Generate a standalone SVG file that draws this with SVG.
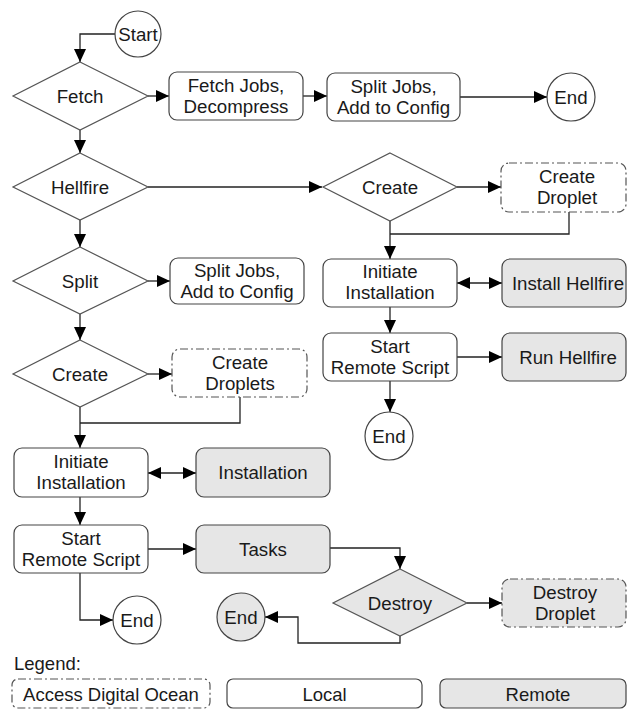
<svg xmlns="http://www.w3.org/2000/svg" width="627" height="710" viewBox="0 0 627 710">
<style>
text{font-family:"Liberation Sans",Arial,sans-serif;font-size:18.7px;fill:#1a1a1a;text-anchor:middle}
.lg{font-size:18.5px}
.box{fill:#fff;stroke:#444;stroke-width:1.2}
.rem{fill:#e6e6e6;stroke:#444;stroke-width:1.2}
.dd{stroke-dasharray:8 3 2 3;stroke:#555}
.dia{fill:#fff;stroke:#555;stroke-width:1.2}
.circ{fill:#fff;stroke:#444;stroke-width:1.2}
.c{fill:none;stroke:#222;stroke-width:1.3}
</style>
<defs>
<marker id="a" markerUnits="userSpaceOnUse" markerWidth="14" markerHeight="12" refX="13" refY="6" orient="auto">
<path d="M0,0 L13,6 L0,12 Z" fill="#000"/>
</marker>
<marker id="s" markerUnits="userSpaceOnUse" markerWidth="14" markerHeight="12" refX="0" refY="6" orient="auto">
<path d="M13,0 L0,6 L13,12 Z" fill="#000"/>
</marker>
</defs>

<g id="connectors">
<path class="c" d="M115,34 H80 V62" marker-end="url(#a)"/>
<path class="c" d="M148,96 H169" marker-end="url(#a)"/>
<path class="c" d="M303,96 H327" marker-end="url(#a)"/>
<path class="c" d="M460,97 H547" marker-end="url(#a)"/>
<path class="c" d="M80,130 V153" marker-end="url(#a)"/>
<path class="c" d="M148,187 H322" marker-end="url(#a)"/>
<path class="c" d="M457,187 H501" marker-end="url(#a)"/>
<path class="c" d="M569,212 V234 H390"/>
<path class="c" d="M390,221 V259" marker-end="url(#a)"/>
<path class="c" d="M457,283 H502" marker-start="url(#s)" marker-end="url(#a)"/>
<path class="c" d="M390,307 V333" marker-end="url(#a)"/>
<path class="c" d="M457,357 H502" marker-end="url(#a)"/>
<path class="c" d="M390,381 V412" marker-end="url(#a)"/>
<path class="c" d="M80,220 V247" marker-end="url(#a)"/>
<path class="c" d="M148,281 H170" marker-end="url(#a)"/>
<path class="c" d="M80,314 V340" marker-end="url(#a)"/>
<path class="c" d="M148,374 H172" marker-end="url(#a)"/>
<path class="c" d="M240,397 V423 H80"/>
<path class="c" d="M80,407 V448" marker-end="url(#a)"/>
<path class="c" d="M148,473 H196" marker-start="url(#s)" marker-end="url(#a)"/>
<path class="c" d="M80,497 V525" marker-end="url(#a)"/>
<path class="c" d="M148,549 H196" marker-end="url(#a)"/>
<path class="c" d="M80,573 V620 H113" marker-end="url(#a)"/>
<path class="c" d="M330,548 H400 V569" marker-end="url(#a)"/>
<path class="c" d="M467,603 H502" marker-end="url(#a)"/>
<path class="c" d="M400,636 V643 H298 V617 H265" marker-end="url(#a)"/>
</g>

<g id="start"><circle class="circ" cx="138" cy="34" r="23"/><text x="138" y="40.5">Start</text></g>
<g id="fetch"><polygon class="dia" points="80,62 148,96 80,130 13,96"/><text x="80" y="102.5">Fetch</text></g>
<g id="fetchjobs"><rect class="box" x="169" y="72" width="134" height="48" rx="8"/><text x="236" y="92">Fetch Jobs,</text><text x="236" y="112.5">Decompress</text></g>
<g id="splitjobs1"><rect class="box" x="327" y="73" width="133" height="48" rx="8"/><text x="393.5" y="93">Split Jobs,</text><text x="393.5" y="113.5">Add to Config</text></g>
<g id="end1"><circle class="circ" cx="571" cy="97" r="24"/><text x="571" y="103.5">End</text></g>

<g id="hellfire"><polygon class="dia" points="80,153 148,187 80,220 13,187"/><text x="80" y="193.5">Hellfire</text></g>
<g id="create2"><polygon class="dia" points="390,153 457,187 390,221 323,187"/><text x="390" y="193.5">Create</text></g>
<g id="createdroplet"><rect class="box dd" x="501" y="163" width="125" height="49" rx="8"/><text x="567" y="183">Create</text><text x="567" y="203.5">Droplet</text></g>
<g id="initiate2"><rect class="box" x="323" y="259" width="134" height="48" rx="8"/><text x="390" y="278">Initiate</text><text x="390" y="298.5">Installation</text></g>
<g id="installhellfire"><rect class="rem" x="502" y="259" width="124" height="48" rx="8"/><text x="568" y="289.5">Install Hellfire</text></g>
<g id="startremote2"><rect class="box" x="323" y="333" width="134" height="48" rx="8"/><text x="390" y="353">Start</text><text x="390" y="373.5">Remote Script</text></g>
<g id="runhellfire"><rect class="rem" x="502" y="333" width="124" height="48" rx="8"/><text x="568" y="363.5">Run Hellfire</text></g>
<g id="end2"><circle class="circ" cx="389" cy="436" r="24"/><text x="389" y="442.5">End</text></g>

<g id="split"><polygon class="dia" points="80,247 148,281 80,314 13,281"/><text x="80" y="287.5">Split</text></g>
<g id="splitjobs2"><rect class="box" x="170" y="258" width="134" height="46" rx="8"/><text x="237" y="277">Split Jobs,</text><text x="237" y="297.5">Add to Config</text></g>
<g id="create1"><polygon class="dia" points="80,340 148,374 80,407 13,374"/><text x="80" y="380.5">Create</text></g>
<g id="createdroplets"><rect class="box dd" x="172" y="349" width="135" height="48" rx="8"/><text x="240" y="369">Create</text><text x="240" y="389.5">Droplets</text></g>
<g id="initiate1"><rect class="box" x="14" y="448" width="134" height="49" rx="8"/><text x="81" y="468">Initiate</text><text x="81" y="488.5">Installation</text></g>
<g id="installation"><rect class="rem" x="196" y="448" width="134" height="49" rx="8"/><text x="263" y="479">Installation</text></g>
<g id="startremote1"><rect class="box" x="14" y="525" width="134" height="48" rx="8"/><text x="81" y="545">Start</text><text x="81" y="565.5">Remote Script</text></g>
<g id="tasks"><rect class="rem" x="196" y="525" width="134" height="48" rx="8"/><text x="263" y="555.5">Tasks</text></g>
<g id="end3"><circle class="circ" cx="137" cy="620" r="24"/><text x="137" y="626.5">End</text></g>
<g id="destroy"><polygon class="dia" style="fill:#e6e6e6" points="400,569 467,603 400,636 333,603"/><text x="400" y="609.5">Destroy</text></g>
<g id="destroydroplet"><rect class="rem dd" x="502" y="579" width="124" height="48" rx="8"/><text x="565" y="599">Destroy</text><text x="565" y="619.5">Droplet</text></g>
<g id="end4"><circle class="circ" style="fill:#e6e6e6" cx="241" cy="617" r="24"/><text x="241" y="623.5">End</text></g>

<g id="legend">
<text class="lg" x="14" y="670" style="text-anchor:start">Legend:</text>
<rect class="box dd" x="12" y="679" width="198" height="29" rx="6"/><text class="lg" x="111" y="701">Access Digital Ocean</text>
<rect class="box" x="227" y="679" width="195" height="29" rx="6"/><text class="lg" x="324.5" y="701">Local</text>
<rect class="rem" x="440" y="679" width="186" height="29" rx="6"/><text class="lg" x="538" y="701">Remote</text>
</g>
</svg>
